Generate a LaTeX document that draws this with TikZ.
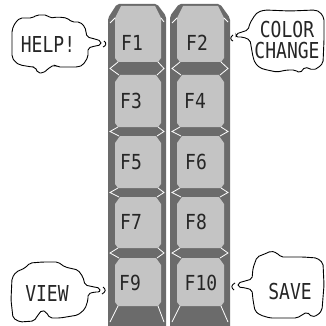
\documentclass[tikz,border=0pt]{standalone}
\usepackage{fontspec}
\setmonofont{DejaVu Sans Mono}
\usepackage{graphicx}
\definecolor{colgray}{gray}{0.42}
\definecolor{facegray}{gray}{0.77}
\newcommand\tallx[1]{\scalebox{1}[1.22]{#1}}
\newcommand\tallk[1]{\scalebox{1}[1.15]{#1}}
\newcommand\keyface[4]{%
  \fill[facegray] ({#1+5},{#3}) -- ({#2-5},{#3}) -- ({#2},{#3+7}) -- ({#2},{#4-4}) -- ({#2-3},{#4}) -- ({#1+3},{#4}) -- ({#1},{#4-4}) -- ({#1},{#3+7}) -- cycle;
}
% white skirt edges between two stacked faces: xl xr ybottom ytopnext colL colR
\newcommand\keygap[6]{%
  \draw[skirtline] ({#1+3},{#3}) -- ({#5+2},{(#3+#4)/2}) -- ({#1+4},{#4});
  \draw[skirtline] ({#2-3},{#3}) -- ({#6-2},{(#3+#4)/2}) -- ({#2-4},{#4});
}
\begin{document}
\begin{tikzpicture}[x=1pt,y=-1pt,
  skirtline/.style={white, line width=0.8pt},
  bubble/.style={draw=black, line width=0.9pt, rounded corners=2pt, fill=white},
  keylbl/.style={font=\ttfamily\fontsize{18}{18}\selectfont, text=black!85, inner sep=0pt},
  bublbl/.style={font=\ttfamily\fontsize{18}{19}\selectfont, text=black!85, inner sep=0pt, align=center},
  hook/.style={draw=black, line width=0.9pt}]
\useasboundingbox (0,0) rectangle (325,326);
\fill[white] (0,0) rectangle (325,326);

% columns
\fill[colgray, rounded corners=2pt] (108,330) -- (108,18) -- (117,4) -- (157,4) -- (166,16) -- (166,330) -- cycle;
\fill[colgray, rounded corners=2pt] (170,330) -- (170,16) -- (179,4) -- (220,4) -- (230,18) -- (230,330) -- cycle;

% faces left column
\fill[facegray] (121,6) -- (155,6) -- (161,18) -- (161,58) -- (158,62) -- (118,62) -- (115,58) -- (115,18) -- cycle;
\keyface{115}{161}{75}{127}
\keyface{115}{161}{136}{188}
\keyface{115}{161}{197}{248}
\keyface{115}{161}{258}{306}
% faces right column
\fill[facegray] (183,6) -- (218,6) -- (224,18) -- (224,58) -- (221,62) -- (180,62) -- (177,58) -- (177,18) -- cycle;
\keyface{177}{224}{75}{127}
\keyface{177}{224}{136}{188}
\keyface{177}{224}{197}{248}
\keyface{177}{224}{258}{306}

% skirt edges
\draw[skirtline] (115,18) -- (110,23);
\draw[skirtline] (161,18) -- (164,22);
\draw[skirtline] (177,18) -- (172,23);
\draw[skirtline] (224,18) -- (228,22);
\keygap{115}{161}{62}{75}{108}{166}
\keygap{115}{161}{127}{136}{108}{166}
\keygap{115}{161}{188}{197}{108}{166}
\keygap{115}{161}{248}{258}{108}{166}
\keygap{177}{224}{62}{75}{170}{230}
\keygap{177}{224}{127}{136}{170}{230}
\keygap{177}{224}{188}{197}{170}{230}
\keygap{177}{224}{248}{258}{170}{230}
\draw[skirtline] (118,306) -- (110,322);
\draw[skirtline] (158,306) -- (164,322);
\draw[skirtline] (180,306) -- (172,322);
\draw[skirtline] (221,306) -- (228,322);

% key labels
\node[keylbl] (f1) at (132,43) {\tallk{F1}};
\node[keylbl] (f2) at (197,43) {\tallk{F2}};
\node[keylbl] (f3) at (131,101) {\tallk{F3}};
\node[keylbl] (f4) at (195,101) {\tallk{F4}};
\node[keylbl] (f5) at (131,162) {\tallk{F5}};
\node[keylbl] (f6) at (196,162) {\tallk{F6}};
\node[keylbl] (f7) at (131,222) {\tallk{F7}};
\node[keylbl] (f8) at (196,222) {\tallk{F8}};
\node[keylbl] (f9) at (130,283) {\tallk{F9}};
\node[keylbl] (f10) at (201,283) {\tallk{F10}};

% HELP bubble
\draw[bubble] (15,23) -- (20,18) -- (32,18) -- (37,15) -- (47,15) -- (50,18) -- (58,17) -- (67,18) -- (72,22) -- (80,22) -- (85,27) -- (87,37)
  -- (95,39) -- (101,41) -- (101,45) -- (95,46) -- (88,48)
  -- (88,57) -- (83,65) -- (78,67) -- (58,67) -- (55,65) -- (50,67) -- (47,70) -- (43,73) -- (38,73) -- (35,67) -- (32,67) -- (20,65) -- (15,62) -- (12,57) -- (12,30) -- cycle;
\draw[hook] (104,41) .. controls (107,43) and (106,46) .. (103,47);
\node[bublbl] (help) at (48,44) {\tallx{HELP!}};

% COLOR CHANGE bubble
\draw[bubble] (258,12) -- (255,15) -- (250,23) -- (248,30)
  -- (242,32) -- (236,34) -- (236,37) -- (243,37) -- (250,40)
  -- (253,57) -- (255,63) -- (260,68) -- (267,70) -- (277,72) -- (287,70) -- (295,70) -- (300,73) -- (305,67) -- (313,70) -- (318,68) -- (323,63)
  -- (324,40) -- (324,18) -- (320,12) -- (315,10) -- (290,11) -- (265,10) -- cycle;
\draw[hook] (233,35) .. controls (230,37) and (230,40) .. (233,41);
\node[bublbl] (color) at (287,30) {\tallx{COLOR}};
\node[bublbl] (change) at (287,51) {\tallx{CHANGE}};

% VIEW bubble
\draw[bubble] (25,268) -- (30,263) -- (43,262) -- (58,262) -- (62,265) -- (65,267) -- (78,270) -- (83,277) -- (85,285)
  -- (94,287) -- (100,288) -- (100,292) -- (94,292) -- (88,294)
  -- (88,300) -- (85,309) -- (78,315) -- (60,318) -- (50,318) -- (46,312) -- (42,310) -- (38,315) -- (34,321) -- (20,322) -- (13,318) -- (11,300) -- (12,278) -- (16,272) -- cycle;
\draw[hook] (103,287) .. controls (106,289) and (106,292) .. (102,294);
\node[bublbl] (view) at (47,293) {\tallx{VIEW}};

% SAVE bubble
\draw[bubble] (257,257) -- (262,255) -- (267,253) -- (271,251) -- (277,253) -- (281,257) -- (303,257) -- (317,258) -- (323,263)
  -- (324,285) -- (322,310) -- (318,315) -- (312,317) -- (307,312) -- (302,315) -- (297,318) -- (270,318) -- (260,315) -- (255,311) -- (253,300)
  -- (252,290) -- (246,288) -- (238,287) -- (238,283) -- (245,281) -- (252,279)
  -- (253,268) -- cycle;
\draw[hook] (235,283) .. controls (231,285) and (231,288) .. (234,290);
\node[bublbl] (save) at (290,292) {\tallx{SAVE}};
\end{tikzpicture}
\end{document}
